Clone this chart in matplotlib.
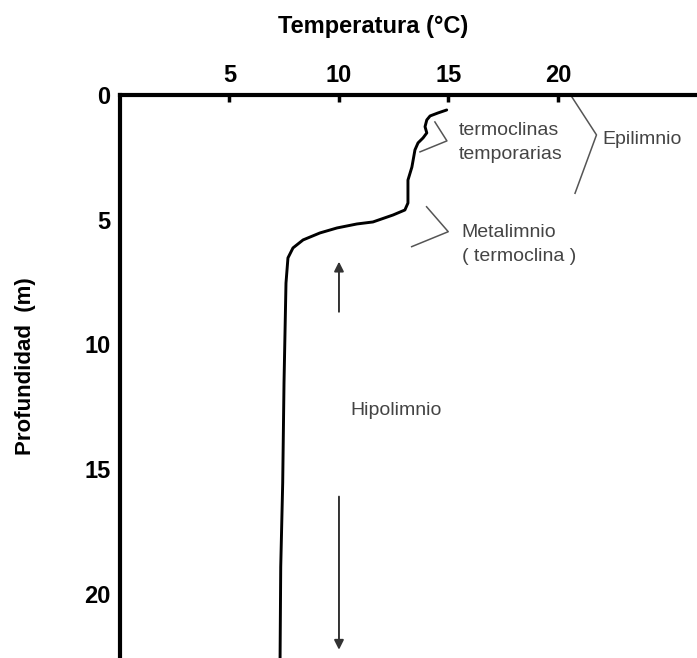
import matplotlib
matplotlib.use("Agg")
import matplotlib.pyplot as plt

# ---------------------------------------------------------------------------
# Data (temperature profile of a stratified lake)
# ---------------------------------------------------------------------------

temperatura = [14.92, 14.52, 14.16, 14.01, 13.93, 14.01, 13.84, 13.61, 13.47,
               13.33, 13.15, 13.15, 13.15, 13.01, 12.47, 11.55, 10.82, 9.91,
               9.13, 8.36, 7.90, 7.67, 7.58, 7.49, 7.43, 7.34, 7.31]
profundidad = [0.60, 0.72, 0.84, 1.00, 1.27, 1.52, 1.72, 1.92, 2.20,
               2.89, 3.41, 3.81, 4.33, 4.61, 4.81, 5.09, 5.17, 5.33,
               5.53, 5.81, 6.13, 6.53, 7.54, 11.54, 15.55, 18.92, 22.57]

x_ticks = [5, 10, 15, 20]
y_ticks = [0, 5, 10, 15, 20]

# bracket lines (temp, depth) for the annotations
brk_temporarias = ([14.38, 14.93, 13.70], [1.08, 1.84, 2.28])
brk_epilimnio = ([20.63, 21.76, 20.78], [0.07, 1.60, 3.94])
brk_metalimnio = ([14.00, 14.99, 13.32], [4.48, 5.48, 6.08])

X_MAX = 26.35
Y_MAX = 22.57

plt.rcParams["font.family"] = ["Liberation Sans", "DejaVu Sans"]

fig = plt.figure(figsize=(6.97, 6.58), dpi=100)
ax = fig.add_axes([120 / 697, 0.0, 1 - 120 / 697, 1 - 95 / 658])

ax.plot(temperatura, profundidad, color="black", linewidth=2.1,
        solid_capstyle="round", solid_joinstyle="round")

ax.set_xlim(0, X_MAX)
ax.set_ylim(Y_MAX, 0)

# axes look: only top and left spines, heavy black
for side in ("right", "bottom"):
    ax.spines[side].set_visible(False)
for side in ("top", "left"):
    ax.spines[side].set_linewidth(3.0)
    ax.spines[side].set_capstyle("projecting")

ax.xaxis.tick_top()
ax.set_xticks(x_ticks)
ax.set_xticklabels([str(v) for v in x_ticks], fontsize=17, fontweight="bold")
ax.tick_params(axis="x", direction="in", length=5, width=2.5, pad=6)

ax.set_yticks(y_ticks)
ax.set_yticklabels([str(v) for v in y_ticks], fontsize=17, fontweight="bold")
ax.tick_params(axis="y", length=0, pad=7)

ax.set_ylabel("Profundidad  (m)", fontsize=16, fontweight="bold")
ax.yaxis.set_label_coords(-0.145, 0.519)

fig.text(373 / 697, 1 - 26 / 658, "Temperatura (°C)", ha="center", va="center",
         fontsize=17, fontweight="bold")

# annotations
line_kw = dict(color="#555555", linewidth=1.1)
text_kw = dict(color="#444444", fontsize=14, va="center", ha="left")

ax.plot(*brk_temporarias, **line_kw)
ax.plot(*brk_epilimnio, **line_kw)
ax.plot(*brk_metalimnio, **line_kw)

ax.text(15.48, 1.44, "termoclinas", **text_kw)
ax.text(15.48, 2.40, "temporarias", **text_kw)
ax.text(22.04, 1.80, "Epilimnio", **text_kw)
ax.text(15.60, 5.53, "Metalimnio", **text_kw)
ax.text(15.60, 6.48, "( termoclina )", **text_kw)
ax.text(10.50, 12.63, "Hipolimnio", **text_kw)

arrow_kw = dict(arrowstyle="-|>", color="#333333", linewidth=1.4,
                mutation_scale=14, shrinkA=0, shrinkB=0)
ax.annotate("", xy=(10.0, 6.68), xytext=(10.0, 8.69), arrowprops=arrow_kw)
ax.annotate("", xy=(10.0, 22.24), xytext=(10.0, 16.1), arrowprops=arrow_kw)

fig.savefig("out.png", dpi=100)
